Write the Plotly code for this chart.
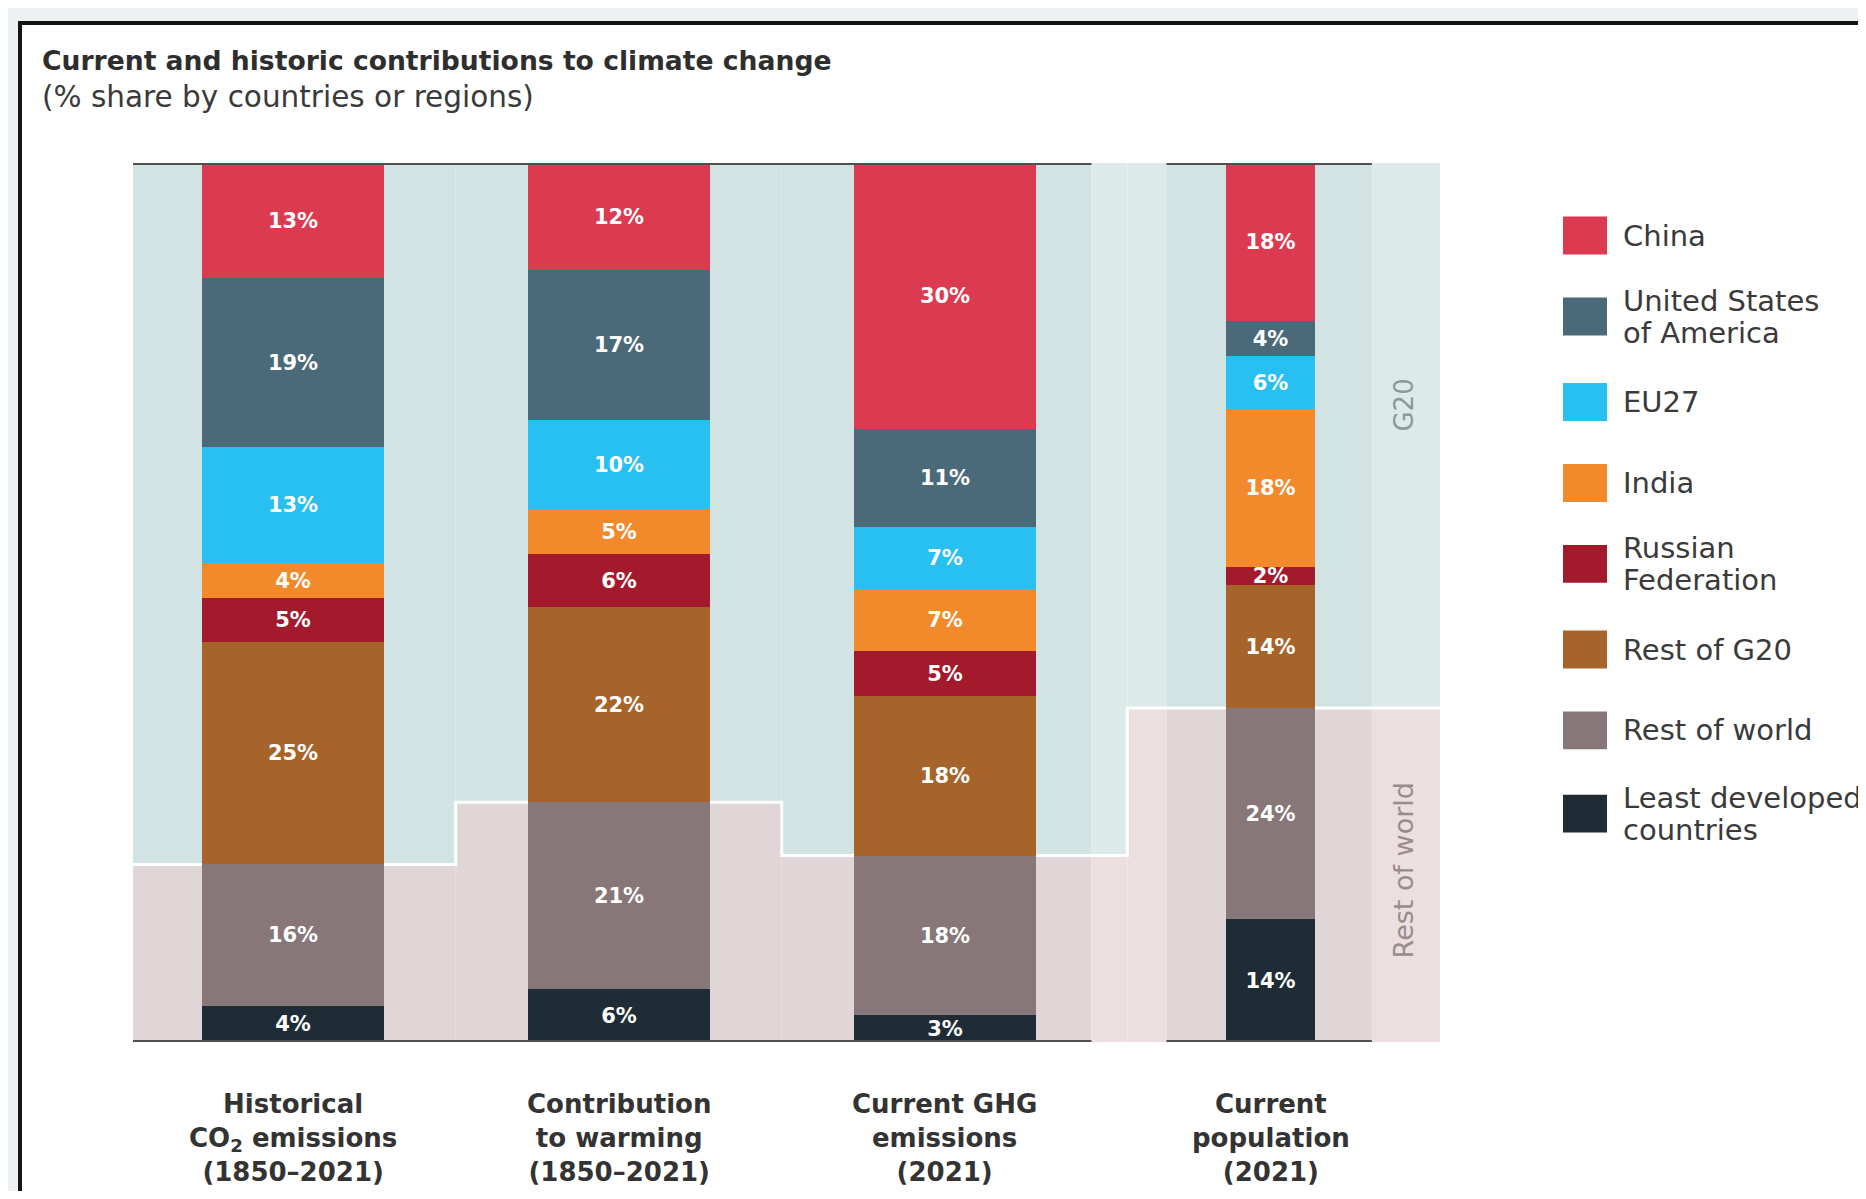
import plotly.graph_objects as go

# ---------------- data ----------------
categories = [
    "<b>Historical<br>CO<sub>2</sub> emissions<br>(1850–2021)</b>",
    "<b>Contribution<br>to warming<br>(1850–2021)</b>",
    "<b>Current GHG<br>emissions<br>(2021)</b>",
    "<b>Current<br>population<br>(2021)</b>",
]
series_names = ["China", "United States<br>of America", "EU27", "India",
                "Russian<br>Federation", "Rest of G20", "Rest of world",
                "Least developed<br>countries"]
china      = [13, 12, 30, 18]
usa        = [19, 17, 11, 4]
eu27       = [13, 10, 7, 6]
india      = [4, 5, 7, 18]
russia     = [5, 6, 5, 2]
rest_g20   = [25, 22, 18, 14]
rest_world = [16, 21, 18, 24]
ldc        = [4, 6, 3, 14]

colors = ["#db3a50", "#4b6a79", "#28c0f0", "#f28a2c", "#a31a2d",
          "#a7642a", "#877779", "#1f2c35"]

series = [china, usa, eu27, india, russia, rest_g20, rest_world, ldc]

# ---------------- layout constants (screen px; page body has 8px margin) ----------------
OFF = 8
W, H = 1858, 1183
PL, PR, PT, PB = 133, 1440, 163, 1042.5   # plot area in screen px
X0, X1 = -0.49, 3.519
FONT = "DejaVu Sans"

def px_x(p):
    return (p - PL) / (PR - PL)

def px_y(p):
    return (PB - p) / (PB - PT)

totals = [sum(s[i] for s in series) for i in range(4)]
norm = [[s[i] / totals[i] * 100 for i in range(4)] for s in series]
boundary = [norm[6][i] + norm[7][i] for i in range(4)]   # top of rest of world

bar_x = [0, 1, 2, 3]
bar_w = [0.558, 0.558, 0.558, 0.273]

fig = go.Figure()
for k in reversed(range(len(series))):
    fig.add_trace(go.Bar(
        x=bar_x, y=norm[k], width=bar_w,
        marker=dict(color=colors[k], line=dict(width=0)),
        text=[f"{v}%" for v in series[k]],
        textposition="inside", insidetextanchor="middle", textangle=0,
        textfont=dict(color="white", size=21, family=FONT, weight="bold"),
        cliponaxis=False, showlegend=False, hoverinfo="skip",
    ))

shapes = []
# page frame
shapes.append(dict(type="rect", xref="paper", yref="paper", layer="below",
                   x0=px_x(20), x1=px_x(1990), y0=px_y(23), y1=px_y(1300),
                   fillcolor="white", line=dict(color="#151515", width=4)))

# background bands
steps = [0.5, 1.5, 2.56]
groups = [(-0.49, 2.45), (2.68, 3.31)]
breaks = sorted(set([X0, X1] + steps + [g for gr in groups for g in gr]))

def bar_for(xm):
    i = 0
    for s in steps:
        if xm > s:
            i += 1
    return i

def in_group(xm):
    return any(a <= xm <= b for a, b in groups)

for a, b in zip(breaks[:-1], breaks[1:]):
    xm = (a + b) / 2
    i = bar_for(xm)
    dark = in_group(xm)
    g20c = "#d1e3e3" if dark else "#dcebea"
    rowc = "#e0d6d7" if dark else "#ecdfe0"
    shapes.append(dict(type="rect", xref="x", yref="y", layer="below",
                       x0=a, x1=b, y0=boundary[i], y1=100,
                       fillcolor=g20c, line=dict(width=0)))
    shapes.append(dict(type="rect", xref="x", yref="y", layer="below",
                       x0=a, x1=b, y0=0, y1=boundary[i],
                       fillcolor=rowc, line=dict(width=0)))

# white step boundary line
edges = [X0] + steps + [X1]
path = f"M {edges[0]},{boundary[0]}"
for i in range(4):
    path += f" L {edges[i+1]},{boundary[i]}"
    if i < 3:
        path += f" L {edges[i+1]},{boundary[i+1]}"
shapes.append(dict(type="path", xref="x", yref="y", layer="below", path=path,
                   line=dict(color="white", width=3)))

# top / bottom rules
for a, b in groups:
    for yv in (100, 0):
        shapes.append(dict(type="line", xref="x", yref="y", layer="above",
                           x0=a, x1=b, y0=yv, y1=yv,
                           line=dict(color="#505050", width=4)))

# legend (manual)
leg_y = [235.6, 316.6, 402.2, 483.2, 564.1, 649.8, 730.7, 814.0]
annotations = []
for k, name in enumerate(series_names):
    cy = leg_y[k]
    shapes.append(dict(type="rect", xref="paper", yref="paper", layer="above",
                       x0=px_x(1563), x1=px_x(1607), y0=px_y(cy + 19), y1=px_y(cy - 19),
                       fillcolor=colors[k], line=dict(width=0)))
    lines = name.split("<br>")
    n = len(lines)
    for j, ln in enumerate(lines):
        ly = cy + (j - (n - 1) / 2) * 32
        annotations.append(dict(xref="paper", yref="paper", x=px_x(1621), y=px_y(ly),
                                xanchor="left", yanchor="middle", align="left",
                                text=ln, showarrow=False,
                                font=dict(size=29, color="#3a3a3a", family=FONT)))

# titles
annotations.append(dict(xref="paper", yref="paper", x=px_x(40), y=px_y(60),
                        xanchor="left", yanchor="middle", showarrow=False,
                        text="<b>Current and historic contributions to climate change</b>",
                        font=dict(size=26.6, color="#2e2e2e", family=FONT)))
annotations.append(dict(xref="paper", yref="paper", x=px_x(40), y=px_y(97),
                        xanchor="left", yanchor="middle", showarrow=False,
                        text="(% share by countries or regions)",
                        font=dict(size=29.5, color="#3a3a3a", family=FONT)))

# category labels
for i, c in enumerate(categories):
    annotations.append(dict(xref="x", yref="paper", x=bar_x[i], y=px_y(1139),
                            xanchor="center", yanchor="middle", showarrow=False,
                            text=c, align="center",
                            font=dict(size=26, color="#333333", family=FONT)))

# band labels
annotations.append(dict(xref="x", yref="y", x=3.408, y=72.5, textangle=-90,
                        text="G20", showarrow=False,
                        font=dict(size=26, color="#8b9999", family=FONT)))
annotations.append(dict(xref="x", yref="y", x=3.408, y=19.5, textangle=-90,
                        text="Rest of world", showarrow=False,
                        font=dict(size=27, color="#998c8c", family=FONT)))

fig.update_layout(
    width=W, height=H,
    margin=dict(l=PL - OFF, r=W - (PR - OFF), t=PT - OFF, b=H - (PB - OFF), pad=0),
    barmode="stack", bargap=0,
    paper_bgcolor="#eef1f2", plot_bgcolor="rgba(0,0,0,0)",
    xaxis=dict(range=[X0, X1], showgrid=False, zeroline=False, showticklabels=False,
               showline=False, ticks="", fixedrange=True),
    yaxis=dict(range=[0, 100], showgrid=False, zeroline=False, showticklabels=False,
               showline=False, ticks="", fixedrange=True),
    uniformtext=dict(minsize=21, mode="show"),
    shapes=shapes, annotations=annotations,
    font=dict(family=FONT),
)

fig.write_html("out.html")
